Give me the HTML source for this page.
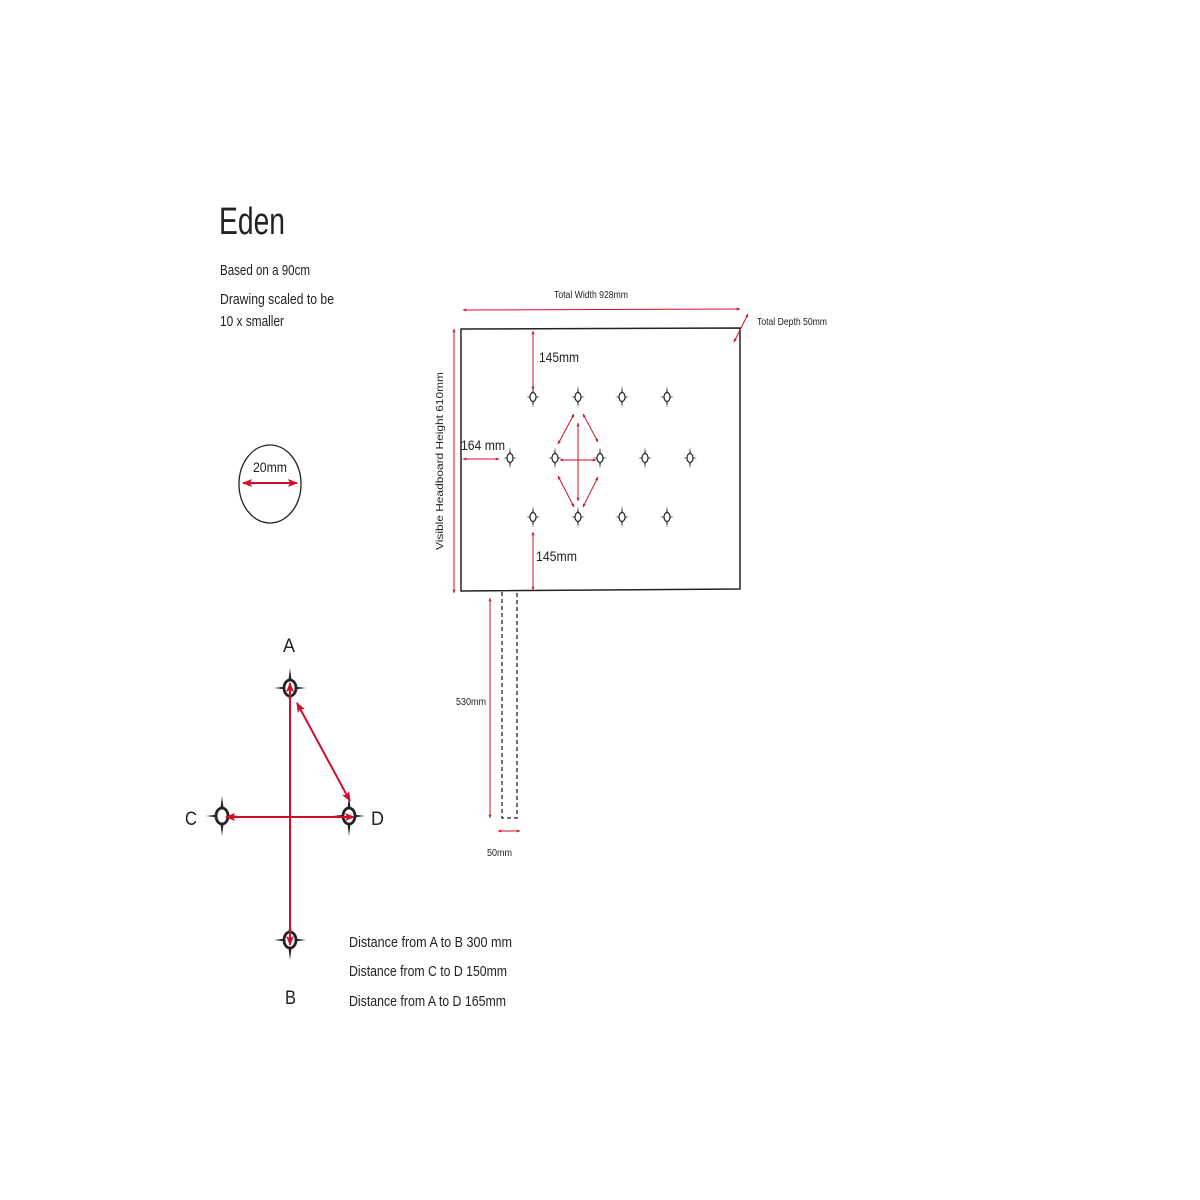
<!DOCTYPE html>
<html><head><meta charset="utf-8"><style>
html,body{margin:0;padding:0;background:#fff;width:1200px;height:1200px;overflow:hidden}
svg text{font-family:"Liberation Sans",sans-serif;fill:#222}
</style></head><body>
<svg width="1200" height="1200" viewBox="0 0 1200 1200" xmlns="http://www.w3.org/2000/svg">
<defs>
<marker id="a" viewBox="0 0 10 10" refX="9" refY="5" markerWidth="5" markerHeight="5" orient="auto-start-reverse"><path d="M0,1 L10,5 L0,9 L2,5z" fill="#d0102a"/></marker>
<marker id="b" viewBox="0 0 10 10" refX="9" refY="5" markerWidth="4" markerHeight="4" orient="auto-start-reverse"><path d="M0,1 L10,5 L0,9 L2,5z" fill="#d0102a"/></marker>
<g id="s">
<path d="M0,-11 L0.8,-4 L0,-3.5 L-0.8,-4Z M0,11 L0.8,4 L0,3.5 L-0.8,4Z M-7,0 L-3,0.6 L-3,-0.6Z M7,0 L3,0.6 L3,-0.6Z" fill="#222"/>
<ellipse cx="0" cy="0" rx="3" ry="4.5" fill="#fff" stroke="#222" stroke-width="1.2"/>
</g>
<g id="L">
<path d="M0,-20 L1.5,-8 L0,-7 L-1.5,-8Z M0,20 L1.5,8 L0,7 L-1.5,8Z M-16,0 L-6,1.2 L-6,-1.2Z M16,0 L6,1.2 L6,-1.2Z" fill="#222"/>
<ellipse cx="0" cy="0" rx="6" ry="8" fill="#fff" stroke="#222" stroke-width="2.8"/>
</g>
</defs>

<text x="219" y="234" font-size="38" textLength="66" lengthAdjust="spacingAndGlyphs">Eden</text>
<text x="220" y="275" font-size="15" textLength="90" lengthAdjust="spacingAndGlyphs">Based on a 90cm</text>
<text x="220" y="304" font-size="15" textLength="114" lengthAdjust="spacingAndGlyphs">Drawing scaled to be</text>
<text x="220" y="326" font-size="15" textLength="64" lengthAdjust="spacingAndGlyphs">10 x smaller</text>

<ellipse cx="270" cy="484" rx="31" ry="39" fill="none" stroke="#222" stroke-width="1.3"/>
<text x="253" y="472" font-size="14" textLength="34" lengthAdjust="spacingAndGlyphs">20mm</text>
<line x1="243" y1="483" x2="297" y2="483" stroke="#d0102a" stroke-width="2" marker-start="url(#a)" marker-end="url(#a)"/>

<!-- headboard -->
<polygon points="461,329 740,328 740,589 461,591" fill="none" stroke="#222" stroke-width="1.5"/>
<text x="554" y="298" font-size="10" textLength="74" lengthAdjust="spacingAndGlyphs">Total Width 928mm</text>
<line x1="463" y1="310" x2="740" y2="309" stroke="#d0102a" stroke-width="1" marker-start="url(#b)" marker-end="url(#b)"/>
<text x="757" y="325" font-size="10" textLength="70" lengthAdjust="spacingAndGlyphs">Total Depth 50mm</text>
<line x1="734" y1="342" x2="748" y2="314" stroke="#d0102a" stroke-width="1" marker-start="url(#b)" marker-end="url(#b)"/>
<line x1="454" y1="329" x2="454" y2="593" stroke="#d0102a" stroke-width="1" marker-start="url(#b)" marker-end="url(#b)"/>
<text transform="translate(443,550) rotate(-90)" font-size="10" textLength="178" lengthAdjust="spacingAndGlyphs">Visible Headboard Height 610mm</text>

<line x1="533" y1="331" x2="533" y2="390" stroke="#d0102a" stroke-width="1" marker-start="url(#b)" marker-end="url(#b)"/>
<text x="539" y="362" font-size="14" textLength="40" lengthAdjust="spacingAndGlyphs">145mm</text>
<line x1="533" y1="532" x2="533" y2="590" stroke="#d0102a" stroke-width="1" marker-start="url(#b)" marker-end="url(#b)"/>
<text x="536" y="561" font-size="14" textLength="41" lengthAdjust="spacingAndGlyphs">145mm</text>
<text x="461" y="450" font-size="14" textLength="44" lengthAdjust="spacingAndGlyphs">164 mm</text>
<line x1="463" y1="459" x2="499" y2="459" stroke="#d0102a" stroke-width="1" marker-start="url(#b)" marker-end="url(#b)"/>

<use href="#s" x="533" y="397"/><use href="#s" x="578" y="397"/><use href="#s" x="622" y="397"/><use href="#s" x="667" y="397"/>
<use href="#s" x="510" y="458"/><use href="#s" x="555" y="458"/><use href="#s" x="600" y="458"/><use href="#s" x="645" y="458"/><use href="#s" x="690" y="458"/>
<use href="#s" x="533" y="517"/><use href="#s" x="578" y="517"/><use href="#s" x="622" y="517"/><use href="#s" x="667" y="517"/>

<g stroke="#d0102a" stroke-width="1" fill="none">
<line x1="574" y1="414" x2="558" y2="444" marker-start="url(#b)" marker-end="url(#b)"/>
<line x1="583" y1="414" x2="598" y2="442" marker-start="url(#b)" marker-end="url(#b)"/>
<line x1="558" y1="476" x2="574" y2="507" marker-start="url(#b)" marker-end="url(#b)"/>
<line x1="598" y1="477" x2="583" y2="507" marker-start="url(#b)" marker-end="url(#b)"/>
<line x1="578" y1="423" x2="578" y2="501" marker-start="url(#b)" marker-end="url(#b)"/>
<line x1="560" y1="460" x2="596" y2="460" marker-start="url(#b)" marker-end="url(#b)"/>
</g>

<!-- post -->
<path d="M502,592 V818 H517 V592" fill="none" stroke="#222" stroke-width="1.3" stroke-dasharray="4,3"/>
<line x1="490" y1="598" x2="490" y2="818" stroke="#d0102a" stroke-width="1" marker-start="url(#b)" marker-end="url(#b)"/>
<text x="456" y="705" font-size="10" textLength="30" lengthAdjust="spacingAndGlyphs">530mm</text>
<line x1="498" y1="831" x2="520" y2="831" stroke="#d0102a" stroke-width="1" marker-start="url(#b)" marker-end="url(#b)"/>
<text x="487" y="856" font-size="10" textLength="25" lengthAdjust="spacingAndGlyphs">50mm</text>

<!-- big diagram -->
<use href="#L" x="290" y="688"/><use href="#L" x="222" y="816"/><use href="#L" x="349" y="816"/><use href="#L" x="290" y="940"/>
<text x="283" y="652" font-size="19" textLength="12" lengthAdjust="spacingAndGlyphs">A</text>
<text x="185" y="825" font-size="19" textLength="12" lengthAdjust="spacingAndGlyphs">C</text>
<text x="371" y="825" font-size="19" textLength="13" lengthAdjust="spacingAndGlyphs">D</text>
<text x="285" y="1004" font-size="19" textLength="11" lengthAdjust="spacingAndGlyphs">B</text>
<g stroke="#d0102a" stroke-width="2" fill="none">
<line x1="290" y1="683" x2="290" y2="945" marker-start="url(#a)" marker-end="url(#a)"/>
<line x1="226" y1="817" x2="354" y2="817" marker-start="url(#a)" marker-end="url(#a)"/>
<line x1="297" y1="703" x2="350" y2="801" marker-start="url(#a)" marker-end="url(#a)"/>
</g>

<text x="349" y="947" font-size="15" textLength="163" lengthAdjust="spacingAndGlyphs">Distance from A to B   300 mm</text>
<text x="349" y="976" font-size="15" textLength="158" lengthAdjust="spacingAndGlyphs">Distance from C to D  150mm</text>
<text x="349" y="1006" font-size="15" textLength="157" lengthAdjust="spacingAndGlyphs">Distance from A to D 165mm</text>
</svg>
</body></html>
